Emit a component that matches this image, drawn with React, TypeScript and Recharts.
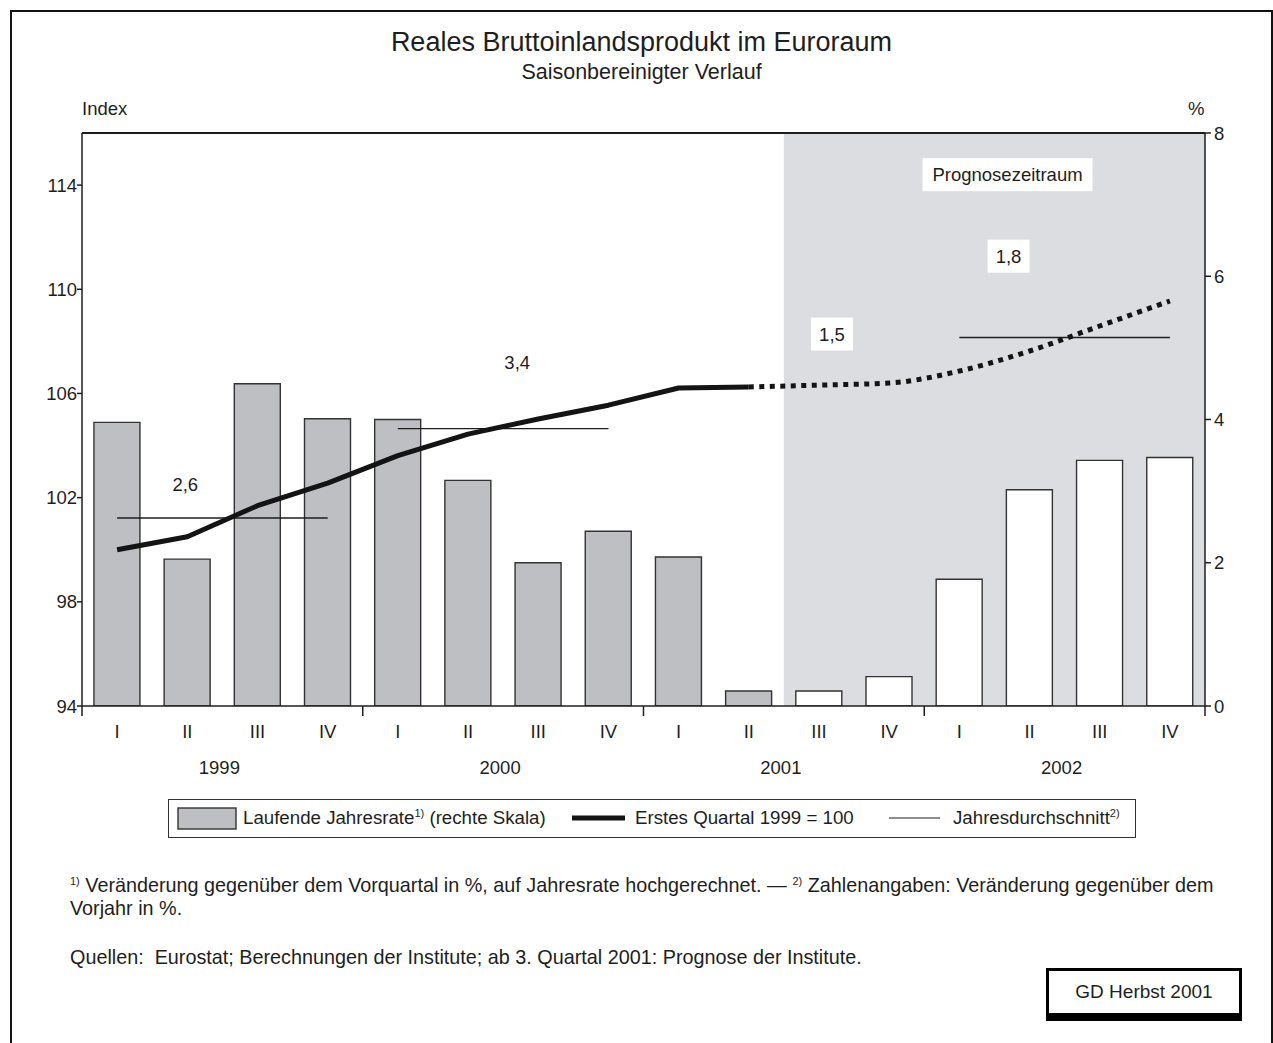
import React from 'react';
import {
  ComposedChart,
  Bar,
  Line,
  XAxis,
  YAxis,
  ReferenceArea,
  ReferenceLine,
  ReferenceDot,
  Cell,
} from 'recharts';

// ---------- data ----------
const categories = [
  '1999 I', '1999 II', '1999 III', '1999 IV',
  '2000 I', '2000 II', '2000 III', '2000 IV',
  '2001 I', '2001 II', '2001 III', '2001 IV',
  '2002 I', '2002 II', '2002 III', '2002 IV',
];
const quarterLabels = ['I', 'II', 'III', 'IV', 'I', 'II', 'III', 'IV', 'I', 'II', 'III', 'IV', 'I', 'II', 'III', 'IV'];
const yearLabels = ['1999', '2000', '2001', '2002'];

// Laufende Jahresrate (rechte Skala, %)
const jahresrate = [3.96, 2.05, 4.5, 4.01, 4.0, 3.15, 2.0, 2.44, 2.08, 0.21, 0.21, 0.41, 1.77, 3.02, 3.43, 3.47];
// Erstes Quartal 1999 = 100 (Ist)
const indexIst = [100.0, 100.5, 101.69, 102.56, 103.61, 104.44, 105.02, 105.55, 106.21, 106.25, null, null, null, null, null, null];
// Erstes Quartal 1999 = 100 (Prognose)
const indexPrognose = [null, null, null, null, null, null, null, null, null, 106.25, 106.32, 106.4, 106.86, 107.63, 108.59, 109.55];
// Prognosezeitraum flag
const istPrognose = [false, false, false, false, false, false, false, false, false, false, true, true, true, true, true, true];

// Jahresdurchschnitt lines (left scale position)
const avgFrom = ['1999 I', '2000 I', '2002 I'];
const avgTo = ['1999 IV', '2000 IV', '2002 IV'];
const avgLevel = [101.22, 104.65, 108.15];

// Annotations: text, anchor category, anchor level (left scale), x-shift, boxed
const annText = ['2,6', '3,4', '1,5', '1,8', 'Prognosezeitraum'];
const annCat = ['1999 II', '2000 III', '2001 III', '2002 II', '2002 II'];
const annLevel = [102.52, 107.17, 108.28, 111.27, 114.4];
const annShift = [-2, -21, 13, -21, -22];
const annBoxed = [false, false, true, true, true];

const leftTicks = [94, 98, 102, 106, 110, 114];
const rightTicks = [0, 2, 4, 6, 8];

const data = categories.map((c, i) => ({
  cat: c,
  rate: jahresrate[i],
  ist: indexIst[i],
  prog: indexPrognose[i],
}));

const FONT = "'Liberation Sans', Arial, Helvetica, sans-serif";
const INK = '#1e1e1e';

const XTick = (props: any) => {
  const { x, y, payload, index } = props;
  const half = payload && payload.offset ? payload.offset : 35.1;
  const i = index as number;
  return (
    <g>
      <text x={x} y={y + 32} textAnchor="middle" fontSize={18.5} fill={INK}>
        {quarterLabels[i]}
      </text>
      {i % 4 === 0 && (
        <line x1={x - half} x2={x - half} y1={y} y2={y + 10} stroke={INK} strokeWidth={1.5} />
      )}
      {i === categories.length - 1 && (
        <line x1={x + half} x2={x + half} y1={y} y2={y + 10} stroke={INK} strokeWidth={1.5} />
      )}
      {i % 4 === 1 && (
        <text x={x + half - 3} y={y + 68} textAnchor="middle" fontSize={18.5} fill={INK}>
          {yearLabels[Math.floor(i / 4)]}
        </text>
      )}
    </g>
  );
};

const makeAnnShape = (text: string, boxed: boolean, shift: number) => (p: any) => {
  const cx = p.cx + shift;
  const cy = p.cy;
  const w = text.length > 5 ? 170 : 42;
  const h = 33;
  return (
    <g>
      {boxed && <rect x={cx - w / 2} y={cy - h / 2} width={w} height={h} fill="#ffffff" />}
      <text x={cx} y={cy + 6.5} textAnchor="middle" fontSize={18.5} fill={INK}>
        {text}
      </text>
    </g>
  );
};

const abs = (left: number, top: number, extra: React.CSSProperties = {}): React.CSSProperties => ({
  position: 'absolute',
  left,
  top,
  whiteSpace: 'nowrap',
  ...extra,
});

const Sup = ({ children }: { children: React.ReactNode }) => (
  <span style={{ fontSize: 11, position: 'relative', top: -7 }}>{children}</span>
);

export default function App() {
  return (
    <div
      style={{
        position: 'absolute',
        left: 0,
        top: 0,
        width: 1273,
        height: 1043,
        overflow: 'hidden',
        background: '#ffffff',
        fontFamily: FONT,
        color: INK,
      }}
    >
      {/* outer frame */}
      <div
        style={{
          position: 'absolute',
          left: 10,
          top: 10,
          width: 1259,
          height: 1100,
          borderTop: '2px solid #111',
          borderLeft: '2px solid #111',
          borderRight: '2px solid #111',
        }}
      />

      {/* titles */}
      <div style={{ position: 'absolute', left: 0, width: 1283, top: 28, textAlign: 'center', fontSize: 27, lineHeight: '28px' }}>
        Reales Bruttoinlandsprodukt im Euroraum
      </div>
      <div style={{ position: 'absolute', left: 0, width: 1283, top: 61, textAlign: 'center', fontSize: 21.5, lineHeight: '22px' }}>
        Saisonbereinigter Verlauf
      </div>
      <div style={abs(82, 99, { fontSize: 18.5, lineHeight: '20px' })}>Index</div>
      <div style={abs(1188, 99, { fontSize: 18.5, lineHeight: '20px' })}>%</div>

      {/* chart */}
      <div style={{ position: 'absolute', left: 0, top: 0 }}>
        <ComposedChart
          width={1273}
          height={786}
          data={data}
          margin={{ top: 133, right: 8, bottom: 0, left: 0 }}
          barCategoryGap="17%"
        >
          <ReferenceArea
            x1="2001 III"
            x2="2002 IV"
            yAxisId="left"
            y1={94}
            y2={116}
            fill="#dcdde0"
            fillOpacity={1}
            stroke="none"
            ifOverflow="visible"
          />
          <XAxis
            dataKey="cat"
            interval={0}
            height={80}
            tickSize={0}
            tickMargin={0}
            tickLine={false}
            axisLine={{ stroke: INK, strokeWidth: 1.5 }}
            tick={<XTick />}
          />
          <YAxis
            yAxisId="left"
            orientation="left"
            width={82}
            domain={[94, 116]}
            ticks={leftTicks}
            allowDataOverflow
            tickSize={5}
            tickMargin={0}
            tickLine={{ stroke: INK, strokeWidth: 1.5 }}
            axisLine={{ stroke: INK, strokeWidth: 1.5 }}
            tick={{ fontSize: 18.5, fill: INK }}
          />
          <YAxis
            yAxisId="right"
            orientation="right"
            width={60}
            domain={[0, 8]}
            ticks={rightTicks}
            allowDataOverflow
            tickSize={6}
            tickMargin={3}
            tickLine={{ stroke: INK, strokeWidth: 1.5 }}
            axisLine={{ stroke: INK, strokeWidth: 1.5 }}
            tick={{ fontSize: 18.5, fill: INK }}
          />
          <ReferenceLine yAxisId="left" y={116} stroke={INK} strokeWidth={2} ifOverflow="visible" />
          <Bar dataKey="rate" yAxisId="right" stroke="#333" strokeWidth={1.4} isAnimationActive={false}>
            {data.map((d, i) => (
              <Cell key={d.cat} fill={istPrognose[i] ? '#ffffff' : '#bebfc3'} />
            ))}
          </Bar>
          {avgLevel.map((v, i) => (
            <ReferenceLine
              key={'avg' + i}
              yAxisId="left"
              segment={[
                { x: avgFrom[i], y: v },
                { x: avgTo[i], y: v },
              ]}
              stroke={INK}
              strokeWidth={1.4}
            />
          ))}
          <Line
            dataKey="ist"
            yAxisId="left"
            type="linear"
            stroke="#141414"
            strokeWidth={5}
            strokeLinejoin="round"
            dot={false}
            activeDot={false}
            isAnimationActive={false}
          />
          <Line
            dataKey="prog"
            yAxisId="left"
            type="monotone"
            stroke="#141414"
            strokeWidth={5}
            strokeDasharray="5 5.5"
            dot={false}
            activeDot={false}
            isAnimationActive={false}
          />
          {annText.map((t, i) => (
            <ReferenceDot
              key={'ann' + i}
              yAxisId="left"
              x={annCat[i]}
              y={annLevel[i]}
              r={0}
              shape={makeAnnShape(t, annBoxed[i], annShift[i])}
            />
          ))}
        </ComposedChart>
      </div>

      {/* legend */}
      <div
        style={{
          position: 'absolute',
          left: 168,
          top: 799,
          width: 966,
          height: 37,
          border: '1.5px solid #333',
          background: '#fff',
        }}
      />
      <svg style={{ position: 'absolute', left: 0, top: 0 }} width={1273} height={1043} pointerEvents="none">
        <rect x={178} y={808} width={58} height={21} fill="#bebfc3" stroke="#333" strokeWidth={1.4} />
        <line x1={572} x2={625} y1={818} y2={818} stroke="#141414" strokeWidth={5} />
        <line x1={889} x2={940} y1={818} y2={818} stroke={INK} strokeWidth={1.2} />
      </svg>
      <div style={abs(243, 808, { fontSize: 18.7, lineHeight: '20px' })}>
        Laufende Jahresrate<Sup>1)</Sup> (rechte Skala)
      </div>
      <div style={abs(635, 808, { fontSize: 18.7, lineHeight: '20px' })}>Erstes Quartal 1999 = 100</div>
      <div style={abs(953, 808, { fontSize: 18.7, lineHeight: '20px' })}>
        Jahresdurchschnitt<Sup>2)</Sup>
      </div>

      {/* footnotes */}
      <div style={abs(70, 875, { fontSize: 19.8, lineHeight: '20px' })}>
        <Sup>1)</Sup> Veränderung gegenüber dem Vorquartal in %, auf Jahresrate hochgerechnet. — <Sup>2)</Sup> Zahlenangaben: Veränderung gegenüber dem
      </div>
      <div style={abs(70, 898, { fontSize: 19.8, lineHeight: '20px' })}>Vorjahr in %.</div>
      <div style={abs(70, 947, { fontSize: 19.8, lineHeight: '20px' })}>
        Quellen:&nbsp; Eurostat; Berechnungen der Institute; ab 3. Quartal 2001: Prognose der Institute.
      </div>

      {/* GD box */}
      <div
        style={{
          position: 'absolute',
          left: 1046,
          top: 968,
          width: 190,
          height: 42,
          borderTop: '3px solid #000',
          borderLeft: '3px solid #000',
          borderRight: '3px solid #000',
          borderBottom: '8px solid #000',
          background: '#fff',
          textAlign: 'center',
          fontSize: 19,
          lineHeight: '42px',
        }}
      >
        GD Herbst 2001
      </div>
    </div>
  );
}
